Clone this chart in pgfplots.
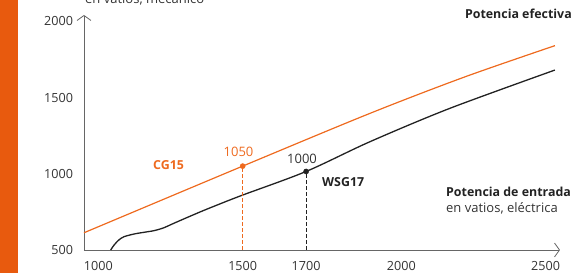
\documentclass[border=0pt]{standalone}
\usepackage{pgfplots}
\pgfplotsset{compat=1.18}
\usepackage{fontspec}
\setmainfont{Open Sans}
\usetikzlibrary{arrows.meta}
\definecolor{orng}{HTML}{EE6A1F}
\definecolor{bar}{HTML}{E85A0E}
\definecolor{blk}{HTML}{222222}
\definecolor{axg}{HTML}{666666}
\definecolor{txt}{HTML}{333333}
\newcommand\bfs{\fontsize{12.4}{14}\selectfont\bfseries}
\begin{document}
\fontsize{13}{15}\selectfont
\begin{tikzpicture}
\begin{axis}[
  scale only axis, width=476pt, height=235pt,
  xmin=1000, xmax=2500, ymin=500, ymax=2041,
  axis lines=left,
  axis line style={axg, line width=0.8pt, -{Straight Barb[length=5pt,width=14pt,line width=0.8pt]}},
  major tick length=0pt,
  xtick={1000,1500,1700,2000,2500},
  xticklabels={\makebox[0pt][l]{1000},1500,1700,2000,\makebox[0pt][r]{2500}},
  ytick={500,1000,1500,2000},
  /pgf/number format/assume math mode=true,
  /pgf/number format/set thousands separator={},
  tick label style={font=\fontsize{12.6}{14}\selectfont, text=txt},
  xticklabel style={yshift=-6.5pt},
  yticklabel style={xshift=-6.5pt},
  clip=false,
]
\addplot[orng, line width=1.2pt, smooth] coordinates {(1000,613) (1500,1050) (1900,1395) (2200,1635) (2484,1840)};
\addplot[blk, line width=1.3pt, smooth, tension=0.5] coordinates {(1084,500) (1095,533) (1110,566) (1126,587) (1158,605) (1189,616) (1221,627) (1252,646) (1284,676) (1378,760) (1492,854) (1700,1015) (1901,1210) (2153,1429) (2484,1680)};
\addplot[orng, line width=1.1pt, dash pattern=on 3.5pt off 2.5pt] coordinates {(1500,500) (1500,1050)};
\addplot[blk, line width=1.1pt, dash pattern=on 3.5pt off 2.5pt] coordinates {(1700,500) (1700,1015)};
\addplot[only marks, mark=*, mark size=2.6pt, orng] coordinates {(1500,1050)};
\addplot[only marks, mark=*, mark size=2.6pt, blk] coordinates {(1700,1015)};
\end{axis}
\fill[bar] (-84pt,-23pt) rectangle (-66pt,250pt);
\node[anchor=east, inner sep=0pt, text=blk] at (488pt,236pt) {\bfs Potencia efectiva};
\node[anchor=base west, inner sep=0pt, text=txt] at (1pt,246pt) {en vatios, mecánico};
\node[anchor=west, inner sep=0pt, text=blk] at (362pt,58pt) {\bfs Potencia de entrada};
\node[anchor=west, inner sep=0pt, text=txt] at (362pt,42pt) {en vatios, eléctrica};
\node[anchor=west, inner sep=0pt, text=blk] at (238pt,68pt) {\bfs WSG17};
\node[anchor=west, inner sep=0pt, text=orng] at (69pt,85pt) {\bfs CG15};
\node[inner sep=0pt, text=orng] at (154.5pt,98pt) {1050};
\node[inner sep=0pt, text=txt] at (218pt,91pt) {1000};
\pgfresetboundingbox
\useasboundingbox (-84pt,-23pt) rectangle (490pt,250pt);
\end{tikzpicture}
\end{document}
